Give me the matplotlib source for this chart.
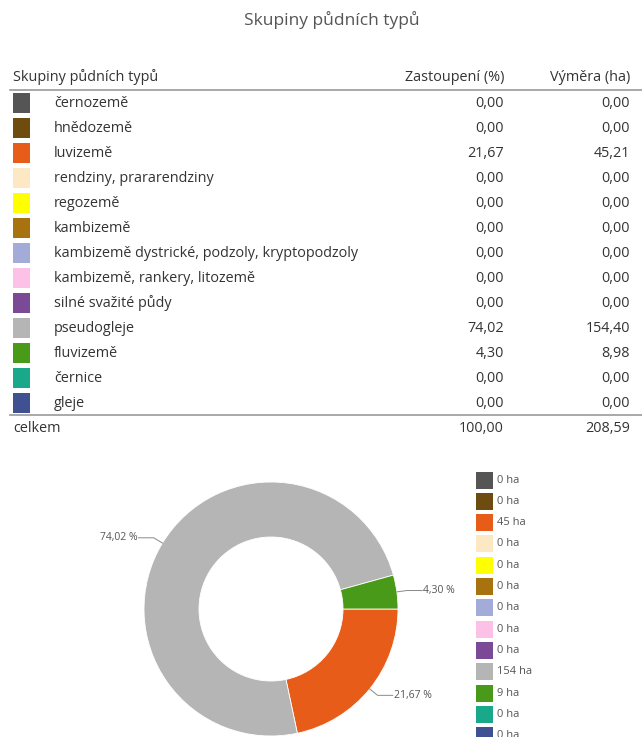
import numpy as np
import matplotlib.pyplot as plt
from matplotlib.patches import Rectangle

plt.rcParams['font.family'] = ['Open Sans', 'DejaVu Sans']

title = "Skupiny půdních typů"
col_headers = ["Skupiny půdních typů", "Zastoupení (%)", "Výměra (ha)"]
groups = ["černozemě", "hnědozemě", "luvizemě", "rendziny, prararendziny",
          "regozemě", "kambizemě", "kambizemě dystrické, podzoly, kryptopodzoly",
          "kambizemě, rankery, litozemě", "silné svažité půdy", "pseudogleje",
          "fluvizemě", "černice", "gleje"]
share_pct = [0.00, 0.00, 21.67, 0.00, 0.00, 0.00, 0.00, 0.00, 0.00, 74.02, 4.30, 0.00, 0.00]
area_ha = [0.00, 0.00, 45.21, 0.00, 0.00, 0.00, 0.00, 0.00, 0.00, 154.40, 8.98, 0.00, 0.00]
colors = ["#555555", "#6e4b0e", "#e85c1a", "#fde8c4", "#ffff00", "#a8720f", "#a3acd8",
          "#fdc0e6", "#7b4a96", "#b5b5b5", "#4a9a1a", "#1aa88a", "#3f5192"]
total_label = "celkem"
total_pct = 100.00
total_ha = 208.59


def cz(v):
    return f"{v:.2f}".replace(".", ",")


W, H = 642, 737
fig = plt.figure(figsize=(W / 100, H / 100), dpi=100)

# overlay axes in pixel coordinates for the table and legend
ov = fig.add_axes([0, 0, 1, 1])
ov.set_xlim(0, W)
ov.set_ylim(H, 0)
ov.axis('off')

txt = '#333333'
fs = 10.4
ov.text(332, 20, title, ha='center', va='center', fontsize=12.5, color='#555555')

# table
ov.text(13, 77, col_headers[0], ha='left', va='center', fontsize=fs, color=txt)
ov.text(504, 77, col_headers[1], ha='right', va='center', fontsize=fs, color=txt)
ov.text(630, 77, col_headers[2], ha='right', va='center', fontsize=fs, color=txt)
ov.plot([10, W], [90, 90], color='#999999', lw=1.2)

for i, (g, p, a, c) in enumerate(zip(groups, share_pct, area_ha, colors)):
    y = 103 + 25 * i
    ov.add_patch(Rectangle((13, y - 10), 17, 20, color=c, lw=0))
    ov.text(54, y, g, ha='left', va='center', fontsize=fs, color=txt)
    ov.text(504, y, cz(p), ha='right', va='center', fontsize=fs, color=txt)
    ov.text(630, y, cz(a), ha='right', va='center', fontsize=fs, color=txt)

ov.plot([10, W], [415, 415], color='#999999', lw=1.2)
ov.text(13, 428, total_label, ha='left', va='center', fontsize=fs, color=txt)
ov.text(504, 428, cz(total_pct), ha='right', va='center', fontsize=fs, color=txt)
ov.text(630, 428, cz(total_ha), ha='right', va='center', fontsize=fs, color=txt)

# legend
for i, (a, c) in enumerate(zip(area_ha, colors)):
    y = 480 + 21.3 * i
    ov.add_patch(Rectangle((476, y - 8.5), 17, 17, color=c, lw=0))
    ov.text(497, y, f"{round(a)} ha", ha='left', va='center', fontsize=8, color='#555555')

# donut
cx, cy, r = 271, 609, 127
ax = fig.add_axes([(cx - r) / W, (H - cy - r) / H, 2 * r / W, 2 * r / H])
nz = [i for i, v in enumerate(share_pct) if v > 0]
vals = [share_pct[i] for i in nz]
cols = [colors[i] for i in nz]
wedges, _ = ax.pie(vals, colors=cols, startangle=0, counterclock=False, radius=1,
                   wedgeprops=dict(width=0.433, edgecolor='white', linewidth=0.6))
ax.set_xlim(-1, 1)
ax.set_ylim(-1, 1)
ax.set_aspect('equal')
ax.axis('off')

for w, v in zip(wedges, vals):
    ang = np.deg2rad((w.theta1 + w.theta2) / 2)
    x0, y0 = np.cos(ang), np.sin(ang)
    x1, y1 = 1.08 * x0, 1.08 * y0
    s = 1 if x0 >= 0 else -1
    x2 = x1 + s * 0.12
    ax.plot([x0, x1, x2], [y0, y1, y1], color='#888888', lw=0.7, clip_on=False)
    ax.text(x2 + s * 0.01, y1, cz(v) + " %", ha='left' if s > 0 else 'right', va='center',
            fontsize=7.5, color='#555555', clip_on=False)

fig.savefig('out.png', dpi=100)
